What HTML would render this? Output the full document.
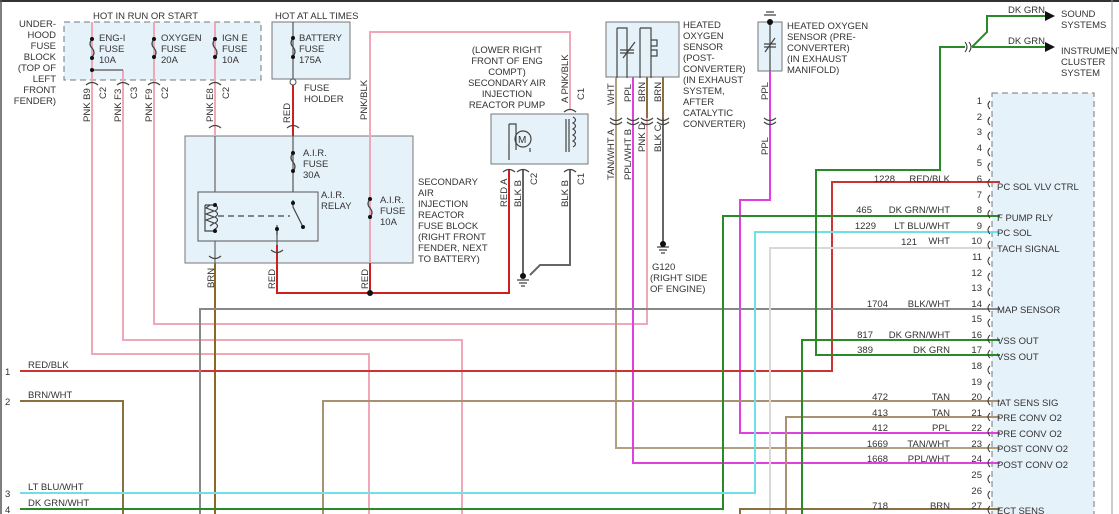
<!DOCTYPE html>
<html><head><meta charset="utf-8"><style>
html,body{margin:0;padding:0;background:#fff}
svg{display:block}
text{font-family:"Liberation Sans",sans-serif;font-size:9.5px;fill:#333}
</style></head><body>
<svg width="1119" height="514" viewBox="0 0 1119 514" xmlns="http://www.w3.org/2000/svg">
<rect x="0" y="0" width="1119" height="514" fill="#fff"/>
<line x1="0" y1="1" x2="1119" y2="1" stroke="#333" stroke-width="2"/>
<line x1="1" y1="0" x2="1" y2="514" stroke="#555" stroke-width="1.5"/>
<line x1="1112" y1="0" x2="1112" y2="514" stroke="#999" stroke-width="1"/>

<rect x="64" y="22" width="197" height="58" fill="#e6f2fa" stroke="#777" stroke-dasharray="6,4"/>
<rect x="272" y="22" width="78" height="57" fill="#e6f2fa" stroke="#777"/>
<rect x="185" y="136" width="228" height="127" fill="#e6f2fa" stroke="#777"/>
<rect x="198" y="192" width="120" height="49" fill="#e6f2fa" stroke="#555"/>
<rect x="491" y="114" width="97" height="50" fill="#e6f2fa" stroke="#777"/>
<rect x="606" y="22" width="73" height="55" fill="#e6f2fa" stroke="#777"/>
<rect x="758" y="22" width="24" height="49" fill="#e6f2fa" stroke="#777"/>
<rect x="992" y="93" width="102" height="430" fill="#e6f2fa" stroke="#777" stroke-dasharray="6,4"/>

<g fill="none" stroke-width="2">
<path d="M92 22V354H369V514" stroke="#f0a8b8"/>
<path d="M123 70H123V340H462V514" stroke="#f0a8b8"/>
<path d="M154 22V324H647V77" stroke="#f0a8b8"/>
<path d="M215 22V136" stroke="#f0a8b8"/>
<path d="M92 70H123" stroke="#555" stroke-width="1.2"/>
<path d="M370 263V32H570V110" stroke="#f0a8b8"/>
<path d="M215 263V514" stroke="#8a6a20"/>
<path d="M215 136V192" stroke="#666" stroke-width="1.2"/>
<path d="M215 241V263" stroke="#666" stroke-width="1.2"/>
<path d="M293 22V79" stroke="#555" stroke-width="1.2"/>
<path d="M293 82V136" stroke="#cc2020"/>
<path d="M293 136V192" stroke="#555" stroke-width="1.2"/>
<path d="M277 245V293H509V170" stroke="#cc2020"/>
<path d="M370 263V293" stroke="#cc2020"/>
<path d="M277 228V245" stroke="#555" stroke-width="1.2"/>
<path d="M523 170V275" stroke="#666"/>
<path d="M570 170V265H540L530 275" stroke="#666"/>
<path d="M616 77V448H1000" stroke="#b0a080"/>
<path d="M633 77V463H1000" stroke="#e040e0"/>
<path d="M663 77V243" stroke="#666"/>
<path d="M647 77V118" stroke="#8a7040"/>
<path d="M663 77V118" stroke="#8a7040"/>
<path d="M770 71V200H740V433H1000" stroke="#e040e0"/>
<path d="M20 371H832V182H1000" stroke="#cc3333"/>
<path d="M20 401H123V514" stroke="#8a7040"/>
<path d="M323 514V401H1000" stroke="#a89070"/>
<path d="M200 514V309H1000" stroke="#888"/>
<path d="M20 509H723V216H1000" stroke="#2a8a2a"/>
<path d="M20 493H755V232H1000" stroke="#70e0e8"/>
<path d="M770 514V248H1000" stroke="#d8d8d8"/>
<path d="M786 514V417H1000" stroke="#a89070"/>
<path d="M740 514V509H1000" stroke="#8a7040"/>
<path d="M802 514V340H1000" stroke="#2a8a2a"/>
<path d="M1000 355H816V170H940V47H965" stroke="#2a8a2a"/>
<path d="M972 47H1045M972 47L987 32V16H1045" stroke="#2a8a2a"/>
</g>
<polygon points="1045,11 1055,16 1045,21" fill="#111"/>
<polygon points="1045,42 1055,47 1045,52" fill="#111"/>
<path d="M965 42q4 5 0 10M969 42q4 5 0 10" fill="none" stroke="#333"/>

<g fill="none" stroke="#444" stroke-width="1.2">
<path d="M92 39q-4 5 0 9q4 5 0 9"/>
<path d="M154 39q-4 5 0 9q4 5 0 9"/>
<path d="M215 39q-4 5 0 9q4 5 0 9"/>
<path d="M293 38q-4 5 0 9q4 5 0 9"/>
<path d="M293 153q-4 5 0 9q4 5 0 9"/>
<path d="M370 199q-4 5 0 9q4 5 0 9"/>
<path d="M205 205h10M205 205v26h10"/>
<path d="M210 205l-4 3l8 3l-8 3l8 3l-8 3l8 3l-4 3"/>
<path d="M215 205q5 3 0 6q5 3 0 6q5 3 0 6q5 3 0 6v3"/>
<path d="M218 216H290" stroke-dasharray="6,4"/>
<path d="M293 200v7l10 20"/>
<path d="M277 225v10"/>
<path d="M86 85q6 -5 12 0M117 85q6 -5 12 0M148 85q6 -5 12 0M209 85q6 -5 12 0"/>
<path d="M209 128q6 -5 12 0M287 128q6 -5 12 0M209 256q6 5 12 0M271 250q6 5 12 0"/>
<path d="M503 172q6 -5 12 0M517 172q6 -5 12 0M564 172q6 -5 12 0M564 112q6 -5 12 0"/>
<path d="M610 118q6 5 12 0M610 122q6 5 12 0M627 118q6 5 12 0M627 122q6 5 12 0M641 118q6 5 12 0M641 122q6 5 12 0M657 118q6 5 12 0M657 122q6 5 12 0"/>
<path d="M764 118q6 5 12 0M764 122q6 5 12 0"/>
<circle cx="523" cy="139" r="8" fill="#e6f2fa"/>
<path d="M516 150V124H509M530 148V152M509 124V160M573 117q5 3 0 6q5 3 0 6q5 3 0 6q5 3 0 6q5 3 0 6M566 119V152M569 119V152"/>
<path d="M617 28h10v50M617 28v50M640 28h11v50M640 28v50M651 40h6v6h-6v4h6v6h-6"/>
<path d="M620 50h14M620 53h14M623 58l12 -16"/>
<path d="M764 44h12M764 47h12M765 52l10 -14M770 22V71"/>
<path d="M517 280h12M519 283h8M521 286h4M657 247h12M659 250h8M661 253h4M764 15h12M766 12h8"/>
</g>
<g fill="#111">
<circle cx="92" cy="39" r="2"/><circle cx="92" cy="58" r="2"/><circle cx="92" cy="70" r="2"/>
<circle cx="154" cy="39" r="2"/><circle cx="154" cy="57" r="2"/>
<circle cx="215" cy="39" r="2"/><circle cx="215" cy="57" r="2"/>
<circle cx="293" cy="38" r="2"/><circle cx="293" cy="57" r="2"/>
<circle cx="293" cy="153" r="2"/><circle cx="293" cy="171" r="2"/>
<circle cx="370" cy="199" r="2"/><circle cx="370" cy="217" r="2"/>
<circle cx="215" cy="205" r="2"/><circle cx="215" cy="231" r="2"/>
<circle cx="293" cy="203" r="2"/><circle cx="303" cy="227" r="2"/><circle cx="277" cy="229" r="2"/>
<circle cx="370" cy="293" r="3"/>
<circle cx="523" cy="276" r="3"/><circle cx="663" cy="244" r="3"/><circle cx="770" cy="22" r="3"/>
</g>
<circle cx="293" cy="82" r="3" fill="#fff" stroke="#555"/>
<text x="518" y="143" style="font-size:10px">M</text>

<g fill="none" stroke="#333">
<path d="M990 101q-4 4 0 8M990 117q-4 4 0 8M990 132q-4 4 0 8M990 148q-4 4 0 8M990 163q-4 4 0 8M990 179q-4 4 0 8M990 195q-4 4 0 8M990 210q-4 4 0 8M990 226q-4 4 0 8M990 241q-4 4 0 8M990 257q-4 4 0 8M990 273q-4 4 0 8M990 288q-4 4 0 8M990 304q-4 4 0 8M990 319q-4 4 0 8M990 335q-4 4 0 8M990 350q-4 4 0 8M990 366q-4 4 0 8M990 382q-4 4 0 8M990 397q-4 4 0 8M990 413q-4 4 0 8M990 428q-4 4 0 8M990 444q-4 4 0 8M990 459q-4 4 0 8M990 475q-4 4 0 8M990 491q-4 4 0 8M990 506q-4 4 0 8"/>
</g>
<g text-anchor="end" style="font-size:9px">
<text x="982" y="104">1</text><text x="982" y="120">2</text><text x="982" y="135">3</text><text x="982" y="151">4</text><text x="982" y="166">5</text><text x="982" y="182">6</text><text x="982" y="198">7</text><text x="982" y="213">8</text><text x="982" y="229">9</text><text x="982" y="244">10</text><text x="982" y="260">11</text><text x="982" y="276">12</text><text x="982" y="291">13</text><text x="982" y="307">14</text><text x="982" y="322">15</text><text x="982" y="338">16</text><text x="982" y="353">17</text><text x="982" y="369">18</text><text x="982" y="385">19</text><text x="982" y="400">20</text><text x="982" y="416">21</text><text x="982" y="431">22</text><text x="982" y="447">23</text><text x="982" y="462">24</text><text x="982" y="478">25</text><text x="982" y="494">26</text><text x="982" y="509">27</text>
<text x="950" y="182">RED/BLK</text><text x="895" y="182">1228</text>
<text x="950" y="213">DK GRN/WHT</text><text x="872" y="213">465</text>
<text x="950" y="229">LT BLU/WHT</text><text x="876" y="229">1229</text>
<text x="950" y="244">WHT</text><text x="917" y="245">121</text>
<text x="950" y="307">BLK/WHT</text><text x="888" y="307">1704</text>
<text x="950" y="338">DK GRN/WHT</text><text x="873" y="338">817</text>
<text x="950" y="353">DK GRN</text><text x="873" y="353">389</text>
<text x="950" y="400">TAN</text><text x="888" y="400">472</text>
<text x="950" y="416">TAN</text><text x="888" y="416">413</text>
<text x="950" y="431">PPL</text><text x="888" y="431">412</text>
<text x="950" y="447">TAN/WHT</text><text x="888" y="447">1669</text>
<text x="950" y="462">PPL/WHT</text><text x="888" y="462">1668</text>
<text x="950" y="509">BRN</text><text x="888" y="509">718</text>
</g>
<g style="font-size:9px">
<text x="997" y="190">PC SOL VLV CTRL</text><text x="997" y="221">F PUMP RLY</text><text x="997" y="236">PC SOL</text><text x="997" y="252">TACH SIGNAL</text><text x="997" y="313">MAP SENSOR</text><text x="997" y="344">VSS OUT</text><text x="997" y="360">VSS OUT</text><text x="997" y="406">IAT SENS SIG</text><text x="997" y="421">PRE CONV O2</text><text x="997" y="437">PRE CONV O2</text><text x="997" y="452">POST CONV O2</text><text x="997" y="468">POST CONV O2</text><text x="997" y="514">ECT SENS</text>
<text x="1008" y="13">DK GRN</text><text x="1008" y="44">DK GRN</text>
<text x="1061" y="17">SOUND</text><text x="1061" y="28">SYSTEMS</text>
<text x="1061" y="54">INSTRUMENT</text><text x="1061" y="65">CLUSTER</text><text x="1061" y="76">SYSTEM</text>
<text x="5" y="375">1</text><text x="28" y="368">RED/BLK</text>
<text x="5" y="405">2</text><text x="28" y="398">BRN/WHT</text>
<text x="5" y="497">3</text><text x="28" y="490">LT BLU/WHT</text>
<text x="5" y="513">4</text><text x="28" y="506">DK GRN/WHT</text>
</g>
<text x="93" y="19">HOT IN RUN OR START</text>
<text x="275" y="19">HOT AT ALL TIMES</text>
<g text-anchor="end"><text x="56" y="27">UNDER-</text><text x="56" y="38">HOOD</text><text x="56" y="49">FUSE</text><text x="56" y="60">BLOCK</text><text x="56" y="71">(TOP OF</text><text x="56" y="82">LEFT</text><text x="56" y="93">FRONT</text><text x="56" y="104">FENDER)</text></g>
<text x="99" y="41">ENG-I</text><text x="99" y="52">FUSE</text><text x="99" y="63">10A</text>
<text x="161" y="41">OXYGEN</text><text x="161" y="52">FUSE</text><text x="161" y="63">20A</text>
<text x="222" y="41">IGN E</text><text x="222" y="52">FUSE</text><text x="222" y="63">10A</text>
<text x="299" y="41">BATTERY</text><text x="299" y="52">FUSE</text><text x="299" y="63">175A</text>
<text x="304" y="91">FUSE</text><text x="304" y="102">HOLDER</text>
<text x="303" y="156">A.I.R.</text><text x="303" y="167">FUSE</text><text x="303" y="178">30A</text>
<text x="321" y="198">A.I.R.</text><text x="321" y="209">RELAY</text>
<text x="380" y="203">A.I.R.</text><text x="380" y="214">FUSE</text><text x="380" y="225">10A</text>
<g><text x="418" y="185">SECONDARY</text><text x="418" y="196">AIR</text><text x="418" y="207">INJECTION</text><text x="418" y="218">REACTOR</text><text x="418" y="229">FUSE BLOCK</text><text x="418" y="240">(RIGHT FRONT</text><text x="418" y="251">FENDER, NEXT</text><text x="418" y="262">TO BATTERY)</text></g>
<g text-anchor="middle"><text x="507" y="53">(LOWER RIGHT</text><text x="507" y="64">FRONT OF ENG</text><text x="507" y="75">COMPT)</text><text x="507" y="86">SECONDARY AIR</text><text x="507" y="97">INJECTION</text><text x="507" y="108">REACTOR PUMP</text></g>
<g><text x="683" y="28">HEATED</text><text x="683" y="39">OXYGEN</text><text x="683" y="50">SENSOR</text><text x="683" y="61">(POST-</text><text x="683" y="72">CONVERTER)</text><text x="683" y="83">(IN EXHAUST</text><text x="683" y="94">SYSTEM,</text><text x="683" y="105">AFTER</text><text x="683" y="116">CATALYTIC</text><text x="683" y="127">CONVERTER)</text></g>
<g><text x="787" y="29">HEATED OXYGEN</text><text x="787" y="40">SENSOR (PRE-</text><text x="787" y="51">CONVERTER)</text><text x="787" y="62">(IN EXHAUST</text><text x="787" y="73">MANIFOLD)</text></g>
<text x="652" y="270">G120</text><text x="650" y="281">(RIGHT SIDE</text><text x="650" y="292">OF ENGINE)</text>
<g style="font-size:9px">
<text transform="translate(90,122) rotate(-90)">PNK  B9</text><text transform="translate(106,99) rotate(-90)">C2</text>
<text transform="translate(121,122) rotate(-90)">PNK  F3</text><text transform="translate(137,99) rotate(-90)">C3</text>
<text transform="translate(152,122) rotate(-90)">PNK  F9</text><text transform="translate(168,99) rotate(-90)">C2</text>
<text transform="translate(213,122) rotate(-90)">PNK  E8</text><text transform="translate(229,99) rotate(-90)">C2</text>
<text transform="translate(290,123) rotate(-90)">RED</text>
<text transform="translate(367,120) rotate(-90)">PNK/BLK</text>
<text transform="translate(214,288) rotate(-90)">BRN</text>
<text transform="translate(275,289) rotate(-90)">RED</text>
<text transform="translate(368,289) rotate(-90)">RED</text>
<text transform="translate(507,207) rotate(-90)">RED  A</text>
<text transform="translate(521,207) rotate(-90)">BLK  B</text><text transform="translate(537,185) rotate(-90)">C2</text>
<text transform="translate(568,207) rotate(-90)">BLK  B</text><text transform="translate(584,185) rotate(-90)">C1</text>
<text transform="translate(568,103) rotate(-90)">A  PNK/BLK</text><text transform="translate(584,100) rotate(-90)">C1</text>
<text transform="translate(614,105) rotate(-90)">WHT</text>
<text transform="translate(631,102) rotate(-90)">PPL</text>
<text transform="translate(645,102) rotate(-90)">BRN</text>
<text transform="translate(661,102) rotate(-90)">BRN</text>
<text transform="translate(614,180) rotate(-90)">TAN/WHT  A</text>
<text transform="translate(631,180) rotate(-90)">PPL/WHT  B</text>
<text transform="translate(645,152) rotate(-90)">PNK  D</text>
<text transform="translate(661,152) rotate(-90)">BLK  C</text>
<text transform="translate(768,100) rotate(-90)">PPL</text>
<text transform="translate(768,155) rotate(-90)">PPL</text>
</g>
</svg>
</body></html>
